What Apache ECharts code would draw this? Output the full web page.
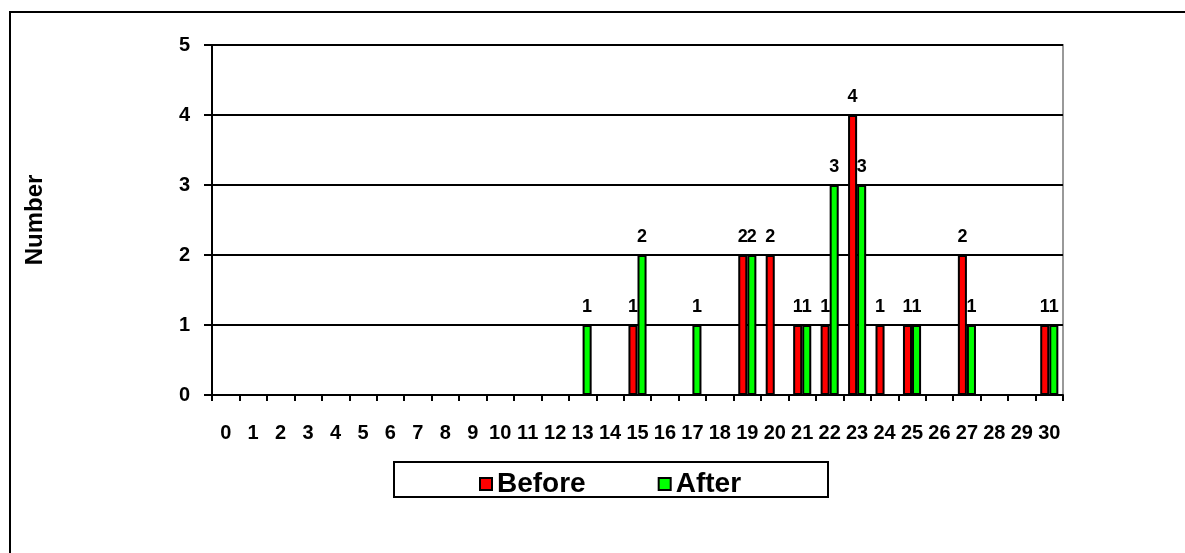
<!DOCTYPE html>
<html><head><meta charset="utf-8">
<script src="https://cdn.jsdelivr.net/npm/echarts@6/dist/echarts.min.js"></script>
<style>html,body{margin:0;padding:0;background:#fff}#c{width:1185px;height:553px}</style>
</head><body><div id="c"></div>
<script>
const categories = ['0','1','2','3','4','5','6','7','8','9','10','11','12','13','14','15','16','17','18','19','20','21','22','23','24','25','26','27','28','29','30'];
const before = [0,0,0,0,0,0,0,0,0,0,0,0,0,0,0,1,0,0,0,2,2,1,1,4,1,1,0,2,0,0,1];
const after  = [0,0,0,0,0,0,0,0,0,0,0,0,0,1,0,2,0,1,0,2,0,1,3,3,0,1,0,1,0,0,1];
const yTicks = [0,1,2,3,4,5];

const font = 'Arial, "Liberation Sans", sans-serif';
const chart = echarts.init(document.getElementById('c'), null, {renderer:'canvas'});
const lbl = {show:true, position:'top', distance:9, fontFamily:font, fontWeight:'bold', fontSize:18, color:'#000',
  formatter: p => (p.value ? String(p.value) : '')};
chart.setOption({
  animation:false,
  backgroundColor:'#fff',
  graphic:[
    {type:'rect', shape:{x:10, y:12, width:1200, height:600}, style:{fill:'none', stroke:'#000', lineWidth:2}, z:0},
    {type:'rect', shape:{x:394, y:462, width:434, height:35}, style:{fill:'#fff', stroke:'#000', lineWidth:2}, z:1}
  ],
  grid:{left:212, right:122, top:45, bottom:158, show:true, borderColor:'#999', borderWidth:2, backgroundColor:'transparent'},
  legend:{
    data:['Before','After'], left:474, top:465, itemWidth:12, itemHeight:12, itemGap:72,
    icon:'rect', z:5,
    itemStyle:{borderColor:'#000', borderWidth:2},
    textStyle:{fontFamily:font, fontWeight:'bold', fontSize:28, color:'#000', padding:[0,0,0,0]}
  },
  xAxis:{
    type:'category', data:categories, boundaryGap:true,
    axisLine:{lineStyle:{color:'#000', width:2}},
    axisTick:{show:true, alignWithLabel:false, length:6, inside:false, lineStyle:{color:'#000', width:2}},
    axisLabel:{interval:0, margin:28, fontFamily:font, fontWeight:'bold', fontSize:20, color:'#000'},
    splitLine:{show:false}
  },
  yAxis:{
    type:'value', min:yTicks[0], max:yTicks[yTicks.length-1], interval:1,
    name:'Number', nameLocation:'middle', nameGap:165, nameRotate:90,
    nameTextStyle:{fontFamily:font, fontWeight:'bold', fontSize:24, color:'#000'},
    axisLine:{show:true, lineStyle:{color:'#000', width:2}},
    axisTick:{show:true, length:8, lineStyle:{color:'#000', width:2}},
    axisLabel:{margin:22, fontFamily:font, fontWeight:'bold', fontSize:20, color:'#000'},
    splitLine:{show:true, lineStyle:{color:'#000', width:2}}
  },
  series:[
    {name:'Before', type:'bar', data:before.map(v=>v||null), barGap:'0%', barCategoryGap:'34%',
     itemStyle:{color:'#ff0000', borderColor:'#000', borderWidth:2}, label:lbl, z:3},
    {name:'After', type:'bar', data:after.map(v=>v||null),
     itemStyle:{color:'#00ff00', borderColor:'#000', borderWidth:2}, label:lbl, z:3}
  ]
});
</script></body></html>
